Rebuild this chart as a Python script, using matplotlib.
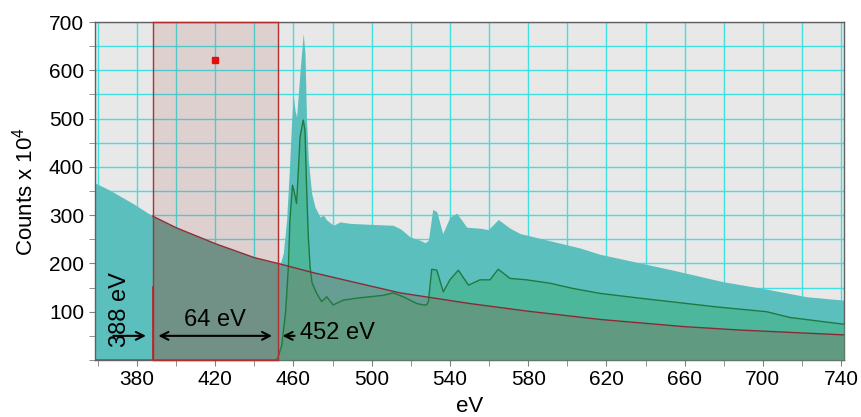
import matplotlib
matplotlib.use("Agg")
import matplotlib.pyplot as plt
from matplotlib.ticker import MultipleLocator

plt.rcParams['font.family'] = ['Liberation Sans', 'DejaVu Sans']
plt.rcParams['mathtext.fontset'] = 'custom'
plt.rcParams['mathtext.rm'] = 'Liberation Sans'

# Raw spectrum (teal fill)
raw_ev = [358.3, 366, 378, 388, 400, 420, 440, 452, 453.1, 454.8, 456.5, 457.9, 459.1, 459.9,
          460.8, 461.6, 463.4, 465, 465.9, 466.7, 467.6, 469.3, 471, 473.6, 475.3, 477,
          480.4, 483.8, 489, 499, 511, 515, 519.6, 524.7,
          527.3, 529, 531.2, 533.3, 536.3, 540, 543.5, 548.6, 555.4, 559.6, 564.7, 570.7,
          575.8, 586, 596.3, 606.5, 616.7, 637.2, 654.2, 679.8, 700.2, 722.4, 741.5]
raw_counts = [367, 352, 324, 298, 274, 241, 212, 200, 197, 221, 290, 393, 497, 548,
              517, 503, 600, 676, 635, 497, 414, 345, 317, 296, 300, 290,
              279, 286, 283, 281, 279, 271, 255, 248,
              243, 248, 312, 307, 262, 296, 304, 275, 273, 270, 291, 273,
              262, 252, 242, 232, 219, 201, 186, 162, 148, 131, 124]

# Signal curve (green line)
sig_ev = [358.3, 451, 452, 454, 456, 457.4, 458.2, 459.5, 460.2, 461.6, 463.4, 465, 465.9,
          466.7, 467.6, 468.5, 469.5, 471.9, 474.4, 477, 480.3, 485.5, 492.3, 499.1, 506, 511,
          516.1, 519.6, 523, 526.5, 528.1, 529, 530.7, 533.3, 536.6, 540, 544.3, 549.5,
          555.4, 560.5, 564.7, 570.7, 579.2, 591.2, 603.1, 616.7, 637.2, 676.2, 701.9,
          713.9, 741.5]
sig_counts = [0, 0, 4, 30, 100, 193, 290, 362, 352, 324, 462, 497, 476,
              359, 255, 193, 160, 138, 121, 131, 114, 124, 128, 131, 134, 139,
              131, 124, 117, 114, 114, 121, 188, 186, 141, 166, 186, 155,
              166, 166, 188, 169, 166, 159, 148, 138, 128, 110, 100,
              88, 74]

# Background fit (red line)
bg_ev = [388, 400, 420, 440, 452, 470, 490, 514.5, 550, 580, 616.7, 637, 660, 688.4, 715, 741.5]
bg_counts = [298, 274, 241, 212, 200, 181, 162, 139, 117, 101, 84, 77, 69, 62, 57, 52]

window_start, window_end = 388, 452
marker_ev, marker_counts = 420, 621

fig = plt.figure(figsize=(8.61, 4.17), dpi=100)
ax = fig.add_axes([0.1098, 0.1367, 0.8705, 0.8105])
ax.set_facecolor('#e8e8e8')
ax.set_xlim(358.3, 741.5)
ax.set_ylim(0, 700)

ax.xaxis.set_minor_locator(MultipleLocator(20))
ax.yaxis.set_minor_locator(MultipleLocator(50))
ax.set_xticks([380, 420, 460, 500, 540, 580, 620, 660, 700, 740])
ax.set_yticks([100, 200, 300, 400, 500, 600, 700])
ax.grid(True, which='both', color='#40e0e0', lw=1.0, zorder=0)
ax.set_axisbelow(True)
ax.tick_params(which='both', direction='out', length=4, color='#808080', labelsize=15)
for s in ax.spines.values():
    s.set_color('#606060')
    s.set_linewidth(1.0)

ax.fill_between(raw_ev, 0, raw_counts, color='#5bbfbe', lw=0, zorder=2)
ax.fill_between(sig_ev, 0, sig_counts, color=(68/255, 179/255, 132/255), alpha=0.6, lw=0, zorder=3)
ax.fill_between(bg_ev, 0, bg_counts, color=(113/255, 126/255, 105/255), alpha=0.5, lw=0, zorder=4)
ax.plot(sig_ev, sig_counts, color='#1f7a3f', lw=1.0, zorder=5)
ax.plot(bg_ev, bg_counts, color='#8b2a35', lw=1.0, zorder=5)

ax.axvspan(window_start, window_end, facecolor=(176/255, 72/255, 72/255), alpha=0.15,
           edgecolor='none', zorder=6)
ax.axvline(window_start, color='#b03030', lw=1.0, zorder=7)
ax.axvline(window_end, color='#b03030', lw=1.0, zorder=7)
ax.plot([window_start, window_start], [0, 151], color='#c02020', lw=1.2, zorder=7)
ax.plot([window_start, window_end], [700, 700], color='#b03030', lw=1.0, zorder=7, clip_on=False)
ax.plot([window_start, window_end], [0, 0], color='#b03030', lw=1.0, zorder=7, clip_on=False)
ax.plot([marker_ev], [marker_counts], marker='s', ms=4, color='#e01010', lw=0, zorder=8)

ax.set_xlabel('eV', fontsize=16, labelpad=5)
ax.set_ylabel(r'Counts x 10$^\mathregular{4}$', fontsize=16, labelpad=8)

akw = dict(arrowstyle='->', color='black', lw=1.5, mutation_scale=14)
ax.annotate('', xy=(386, 50), xytext=(366.5, 50), arrowprops=akw, zorder=9)
ax.annotate('', xy=(450.5, 50), xytext=(389.5, 50),
            arrowprops=dict(arrowstyle='<->', color='black', lw=1.5, mutation_scale=14), zorder=9)
ax.annotate('', xy=(453, 50), xytext=(462, 50), arrowprops=akw, zorder=9)
ax.text(371.3, 105, '388 eV', rotation=90, ha='center', va='center', fontsize=17, zorder=9)
ax.text(420, 83, '64 eV', ha='center', va='center', fontsize=17, zorder=9)
ax.text(463.3, 55, '452 eV', ha='left', va='center', fontsize=17, zorder=9)

fig.savefig('out.png', dpi=100)
